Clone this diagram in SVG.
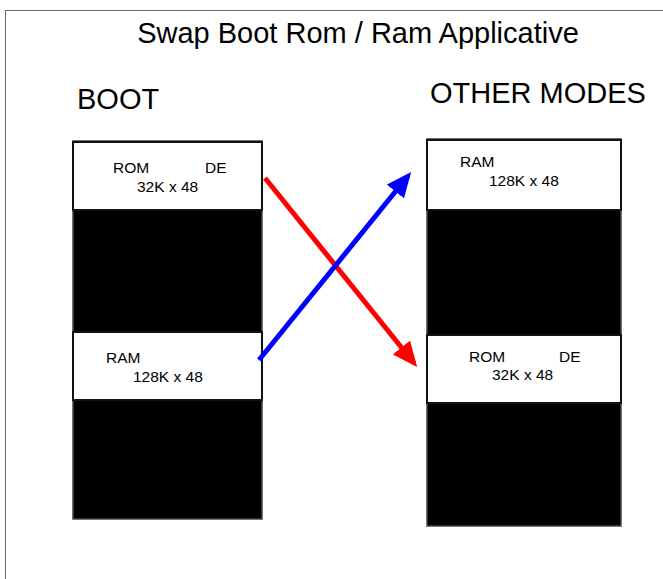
<svg xmlns="http://www.w3.org/2000/svg" width="663" height="579" viewBox="0 0 663 579">
<style>
text{font-family:"Liberation Sans",Arial,sans-serif;fill:#000}
.big{font-size:29px}
.sm{font-size:15.5px}
.col{fill:#000;stroke:#444;stroke-width:1.5}
.box{fill:#fff;stroke:#111;stroke-width:2}
</style>
<defs>
<marker id="hr" markerWidth="5" markerHeight="4.4" refX="4" refY="2.2" orient="auto" markerUnits="strokeWidth"><path d="M0,0 L5,2.2 L0,4.4 z" fill="#ff0000"/></marker>
<marker id="hb" markerWidth="5" markerHeight="4.4" refX="4" refY="2.2" orient="auto" markerUnits="strokeWidth"><path d="M0,0 L5,2.2 L0,4.4 z" fill="#0000ff"/></marker>
</defs>
<rect x="0" y="0" width="663" height="579" fill="#fff"/>
<rect x="5.5" y="10.5" width="700" height="600" fill="none" stroke="#666" stroke-width="1"/>
<text class="big" x="358" y="43" text-anchor="middle">Swap Boot Rom / Ram Applicative</text>
<text class="big" x="77" y="109">BOOT</text>
<text class="big" x="430" y="103">OTHER MODES</text>
<g id="boot">
<rect class="col" x="73" y="141" width="189" height="378"/>
<g id="boot-rom"><rect class="box" x="73" y="142" width="189" height="68"/>
<text class="sm" x="113" y="173">ROM</text><text class="sm" x="205" y="173">DE</text><text class="sm" x="137" y="192">32K x 48</text></g>
<g id="boot-ram"><rect class="box" x="73" y="332" width="189" height="68"/>
<text class="sm" x="106" y="363">RAM</text><text class="sm" x="133" y="382">128K x 48</text></g>
</g>
<g id="other">
<rect class="col" x="427" y="139" width="194" height="387"/>
<g id="other-ram"><rect class="box" x="427" y="140" width="194" height="70"/>
<text class="sm" x="460" y="167">RAM</text><text class="sm" x="489" y="186">128K x 48</text></g>
<g id="other-rom"><rect class="box" x="427" y="335" width="194" height="68"/>
<text class="sm" x="469" y="362">ROM</text><text class="sm" x="559" y="362">DE</text><text class="sm" x="492" y="380">32K x 48</text></g>
</g>
<g id="connectors">
<line x1="265" y1="178" x2="414" y2="363" stroke="#ff0000" stroke-width="5" marker-end="url(#hr)"/>
<line x1="259" y1="360" x2="408" y2="176" stroke="#0000ff" stroke-width="5" marker-end="url(#hb)"/>
</g>
</svg>
